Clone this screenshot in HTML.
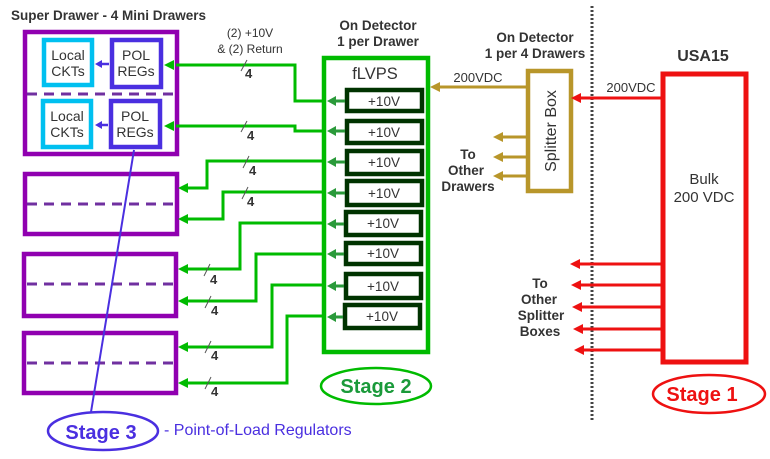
<!DOCTYPE html>
<html><head><meta charset="utf-8"><style>body{margin:0;background:#fff}svg{display:block}text{font-family:"Liberation Sans",sans-serif}</style></head><body>
<svg width="770" height="459" viewBox="0 0 770 459" xmlns="http://www.w3.org/2000/svg">
<text x="11" y="20" font-size="13.5" font-weight="bold" fill="#333">Super Drawer  - 4 Mini Drawers</text>
<g fill="none" stroke="#9000b0" stroke-width="4.5">
<rect x="25" y="32" width="152" height="122"/>
<rect x="25" y="174" width="152" height="60"/>
<rect x="24" y="254" width="152" height="62"/>
<rect x="24" y="333" width="152" height="60"/>
</g>
<g stroke="#7030a0" stroke-width="3" stroke-dasharray="10,7">
<line x1="27" y1="94" x2="176" y2="94"/><line x1="27" y1="204" x2="176" y2="204"/>
<line x1="27" y1="284" x2="176" y2="284"/><line x1="27" y1="363" x2="176" y2="363"/>
</g>
<g fill="#fff" stroke="#00c0f0" stroke-width="4.5"><rect x="44" y="40" width="48" height="45"/><rect x="43" y="101" width="48" height="46"/></g>
<g fill="#fff" stroke="#4a2fe0" stroke-width="4.5"><rect x="112" y="40" width="49" height="47"/><rect x="111" y="101" width="49" height="46"/></g>
<g font-size="14" fill="#333" text-anchor="middle">
<text x="68" y="60">Local</text><text x="68" y="76">CKTs</text>
<text x="67" y="121">Local</text><text x="67" y="137">CKTs</text>
<text x="136" y="60">POL</text><text x="136" y="76">REGs</text>
<text x="135" y="121">POL</text><text x="135" y="137">REGs</text>
</g>
<g stroke="#4a2fe0" stroke-width="2.5"><line x1="109" y1="64" x2="100" y2="64"/><line x1="108" y1="125" x2="100" y2="125"/></g>
<path d="M95,64 l7,-4 v8z M95,125 l7,-4 v8z" fill="#4a2fe0"/>
<line x1="134" y1="150" x2="91" y2="412" stroke="#4a2fe0" stroke-width="2"/>
<g fill="none" stroke="#00bb00" stroke-width="3">
<polyline points="322,101 295,101 295,65 176,65"/>
<polyline points="322,131 295,131 295,126 176,126"/>
<polyline points="322,161 207,161 207,188 186,188"/>
<polyline points="322,192 223,192 223,219 186,219"/>
<polyline points="322,223 240,223 240,269 186,269"/>
<polyline points="322,254 256,254 256,301 186,301"/>
<polyline points="322,285 272,285 272,347 186,347"/>
<polyline points="322,316 287,316 287,383 186,383"/>
</g>
<g fill="#00bb00">
<path d="M164,65 l10,-5 v10z M164,126 l10,-5 v10z M178,188 l10,-5 v10z M178,219 l10,-5 v10z M178,269 l10,-5 v10z M178,301 l10,-5 v10z M178,347 l10,-5 v10z M178,383 l10,-5 v10z"/>
</g>
<g stroke="#555" stroke-width="1">
<line x1="241" y1="71" x2="247" y2="60"/><line x1="241" y1="132" x2="247" y2="121"/>
<line x1="243" y1="168" x2="249" y2="156"/><line x1="242" y1="199" x2="248" y2="187"/>
<line x1="204" y1="276" x2="210" y2="264"/><line x1="205" y1="308" x2="211" y2="296"/>
<line x1="205" y1="353" x2="211" y2="341"/><line x1="205" y1="389" x2="211" y2="377"/>
</g>
<g font-size="13" font-weight="bold" fill="#333">
<text x="245" y="78">4</text><text x="247" y="140">4</text><text x="249" y="175">4</text><text x="247" y="206">4</text>
<text x="210" y="284">4</text><text x="211" y="315">4</text><text x="211" y="360">4</text><text x="211" y="396">4</text>
</g>
<text x="250" y="37" font-size="12" fill="#333" text-anchor="middle">(2) +10V</text>
<text x="250" y="53" font-size="12" fill="#333" text-anchor="middle">&amp; (2) Return</text>
<text x="378" y="30" font-size="13.5" font-weight="bold" fill="#333" text-anchor="middle">On Detector</text>
<text x="378" y="46" font-size="13.5" font-weight="bold" fill="#333" text-anchor="middle">1 per Drawer</text>
<rect x="324" y="58" width="104" height="294" fill="none" stroke="#00bb00" stroke-width="4.5"/>
<text x="375" y="79" font-size="16.5" fill="#333" text-anchor="middle">fLVPS</text>
<g fill="#fff" stroke="#003300" stroke-width="4.5">
<rect x="347" y="90" width="75" height="21"/><rect x="347" y="121" width="75" height="22"/>
<rect x="347" y="151" width="75" height="23"/><rect x="347" y="181" width="75" height="24"/>
<rect x="346" y="212" width="75" height="23"/><rect x="346" y="243" width="75" height="21"/>
<rect x="346" y="274" width="75" height="24"/><rect x="345" y="305" width="75" height="23"/>
</g>
<g font-size="13.5" fill="#333" text-anchor="middle">
<text x="384" y="106">+10V</text><text x="384" y="137">+10V</text><text x="384" y="167">+10V</text><text x="384" y="198">+10V</text>
<text x="383" y="228">+10V</text><text x="383" y="258">+10V</text><text x="383" y="291">+10V</text><text x="382" y="321">+10V</text>
</g>
<g stroke="#2a9a3a" stroke-width="3"><line x1="335" y1="101" x2="345" y2="101"/><line x1="335" y1="131" x2="345" y2="131"/><line x1="335" y1="162" x2="345" y2="162"/><line x1="335" y1="193" x2="345" y2="193"/><line x1="335" y1="224" x2="344" y2="224"/><line x1="335" y1="254" x2="344" y2="254"/><line x1="335" y1="286" x2="344" y2="286"/><line x1="335" y1="317" x2="343" y2="317"/></g>
<g fill="#2a9a3a"><path d="M327,101 l9,-5 v10z M327,131 l9,-5 v10z M327,162 l9,-5 v10z M327,193 l9,-5 v10z M327,224 l9,-5 v10z M327,254 l9,-5 v10z M327,286 l9,-5 v10z M327,317 l9,-5 v10z"/></g>
<ellipse cx="376" cy="386" rx="55" ry="18" fill="none" stroke="#00bb00" stroke-width="2.5"/>
<text x="376" y="393" font-size="20" font-weight="bold" fill="#1a9a3a" text-anchor="middle">Stage 2</text>
<text x="535" y="42" font-size="13.5" font-weight="bold" fill="#333" text-anchor="middle">On Detector</text>
<text x="535" y="58" font-size="13.5" font-weight="bold" fill="#333" text-anchor="middle">1 per 4 Drawers</text>
<rect x="528" y="71" width="43" height="120" fill="none" stroke="#b8962a" stroke-width="4.5"/>
<text transform="translate(556,131) rotate(-90)" font-size="16" fill="#333" text-anchor="middle">Splitter Box</text>
<g stroke="#b8962a" stroke-width="3"><line x1="526" y1="87" x2="438" y2="87"/><line x1="526" y1="137" x2="500" y2="137"/><line x1="526" y1="157" x2="500" y2="157"/><line x1="526" y1="176" x2="500" y2="176"/></g>
<g fill="#b8962a"><path d="M430,87 l10,-5 v10z M493,137 l10,-5 v10z M493,157 l10,-5 v10z M493,176 l10,-5 v10z"/></g>
<text x="478" y="82" font-size="13" fill="#333" text-anchor="middle">200VDC</text>
<g font-size="13.5" font-weight="bold" fill="#333" text-anchor="middle"><text x="468" y="159">To</text><text x="466" y="175">Other</text><text x="468" y="191">Drawers</text></g>
<line x1="592" y1="6" x2="592" y2="422" stroke="#444" stroke-width="3" stroke-dasharray="2,2"/>
<text x="703" y="61" font-size="16" font-weight="bold" fill="#333" text-anchor="middle">USA15</text>
<rect x="663" y="74" width="83" height="288" fill="none" stroke="#ee1111" stroke-width="5"/>
<text x="704" y="184" font-size="15" fill="#333" text-anchor="middle">Bulk</text>
<text x="704" y="202" font-size="15" fill="#333" text-anchor="middle">200 VDC</text>
<text x="631" y="92" font-size="13" fill="#333" text-anchor="middle">200VDC</text>
<g stroke="#ee1111" stroke-width="3"><line x1="661" y1="98" x2="580" y2="98"/><line x1="661" y1="264" x2="578" y2="264"/><line x1="661" y1="285" x2="578" y2="285"/><line x1="661" y1="307" x2="578" y2="307"/><line x1="661" y1="329" x2="578" y2="329"/><line x1="661" y1="350" x2="578" y2="350"/></g>
<g fill="#ee1111"><path d="M571,98 l10,-5 v10z M570,264 l10,-5 v10z M571,285 l10,-5 v10z M572,307 l10,-5 v10z M573,329 l10,-5 v10z M574,350 l10,-5 v10z"/></g>
<g font-size="13.5" font-weight="bold" fill="#333" text-anchor="middle"><text x="540" y="288">To</text><text x="539" y="304">Other</text><text x="541" y="320">Splitter</text><text x="540" y="336">Boxes</text></g>
<ellipse cx="709" cy="394" rx="56" ry="19" fill="none" stroke="#ee1111" stroke-width="2.5"/>
<text x="702" y="401" font-size="20" font-weight="bold" fill="#ee1111" text-anchor="middle">Stage 1</text>
<ellipse cx="103" cy="431" rx="55" ry="19" fill="none" stroke="#4a2fe0" stroke-width="2.5"/>
<text x="101" y="439" font-size="20" font-weight="bold" fill="#4a2fe0" text-anchor="middle">Stage 3</text>
<text x="164" y="435" font-size="16" fill="#4a2fe0">- Point-of-Load Regulators</text>
</svg>
</body></html>
